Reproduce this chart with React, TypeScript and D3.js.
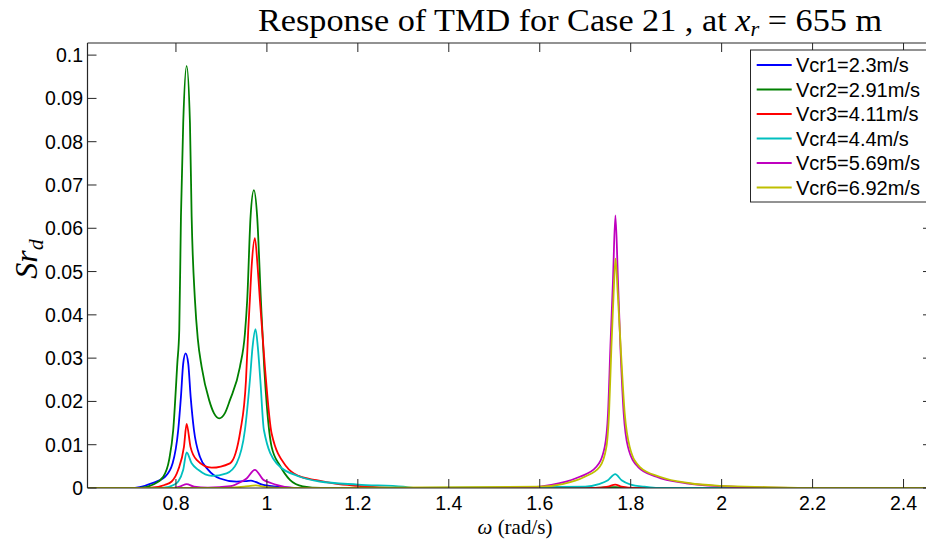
import React from "react";
import * as d3 from "d3";

const W = 926;
const H = 540;

const xTicks = [0.8, 1, 1.2, 1.4, 1.6, 1.8, 2, 2.2, 2.4];
const yTicks = [0, 0.01, 0.02, 0.03, 0.04, 0.05, 0.06, 0.07, 0.08, 0.09, 0.1];
const xTickLabels = ["0.8", "1", "1.2", "1.4", "1.6", "1.8", "2", "2.2", "2.4"];
const yTickLabels = ["0", "0.01", "0.02", "0.03", "0.04", "0.05", "0.06", "0.07", "0.08", "0.09", "0.1"];

const seriesNames = ["Vcr1=2.3m/s", "Vcr2=2.91m/s", "Vcr3=4.11m/s", "Vcr4=4.4m/s", "Vcr5=5.69m/s", "Vcr6=6.92m/s"];
const seriesColors = ["#0000ff", "#008000", "#ff0000", "#00bfbf", "#bf00bf", "#bfbf00"];

const vcr1: [number, number][] = [
  [0.6055, 0], [0.7, 0], [0.72, 0.0002], [0.7466, 0.0011], [0.776, 0.0026], [0.7927, 0.0057],
  [0.805, 0.0134], [0.811, 0.0211], [0.816, 0.0288], [0.8213, 0.0311], [0.827, 0.0288],
  [0.8323, 0.0211], [0.8396, 0.0134], [0.8527, 0.0072], [0.871, 0.0042], [0.8967, 0.0022],
  [0.9334, 0.00146], [0.955, 0.0016], [0.965, 0.0017], [0.975, 0.0014], [0.9919, 0.0007],
  [1.03, 0.0002], [1.08, 0], [2.46, 0],
];

const vcr2: [number, number][] = [
  [0.6055, 0], [0.72, 0], [0.75, 0.0008], [0.772, 0.0026], [0.785, 0.0065], [0.794, 0.0134],
  [0.803, 0.0288], [0.8073, 0.0365], [0.811, 0.0627], [0.816, 0.0843], [0.8235, 0.0975],
  [0.8308, 0.0843], [0.8345, 0.0627], [0.8418, 0.0434], [0.848, 0.0345], [0.8565, 0.028],
  [0.873, 0.0203], [0.8835, 0.0173], [0.8952, 0.0161], [0.9077, 0.0173], [0.9187, 0.0203],
  [0.9407, 0.028], [0.9517, 0.0357], [0.9567, 0.0434], [0.9641, 0.0627],
  [0.9714, 0.0688], [0.9786, 0.0627], [0.9868, 0.0434], [0.994, 0.028], [1.0, 0.0188],
  [1.0104, 0.0095], [1.0286, 0.0052], [1.0506, 0.0019], [1.079, 0.0004], [1.12, 0],
  [1.7, 0], [1.766, 0.0002], [1.8, 0], [2.46, 0],
];

const vcr3: [number, number][] = [
  [0.6055, 0], [0.74, 0], [0.775, 0.0007], [0.7906, 0.0015], [0.805, 0.0042], [0.8176, 0.0095],
  [0.8235, 0.0148], [0.832, 0.0095], [0.8455, 0.0065], [0.8785, 0.0047], [0.9187, 0.0057],
  [0.942, 0.0134], [0.954, 0.0249], [0.959, 0.0365], [0.9625, 0.0434], [0.9664, 0.0511],
  [0.9736, 0.0577], [0.9796, 0.0511], [0.9846, 0.0434], [0.9956, 0.028], [1.0104, 0.0126],
  [1.0433, 0.0049], [1.07, 0.0028], [1.109, 0.0018], [1.15, 0.001], [1.2, 0.0005],
  [1.26, 0.0001], [1.3, 0], [1.72, 0], [1.75, 0.0003], [1.766, 0.0008], [1.78, 0.0003],
  [1.81, 0], [2.46, 0],
];

const vcr4: [number, number][] = [
  [0.6055, 0], [0.77, 0], [0.7946, 0.0007], [0.805, 0.0015], [0.816, 0.0042], [0.8235, 0.0082],
  [0.8345, 0.0057], [0.849, 0.0042], [0.8785, 0.0028], [0.9114, 0.0034], [0.9334, 0.0057],
  [0.9517, 0.0134], [0.9626, 0.0249], [0.9685, 0.0326], [0.975, 0.0367], [0.98, 0.0326],
  [0.9856, 0.0249], [0.9934, 0.0134], [1.0213, 0.0057], [1.0725, 0.0026], [1.116, 0.0015],
  [1.2, 0.0008], [1.3, 0.0003], [1.33, 0], [1.7, 0.0003], [1.73, 0.0009], [1.75, 0.0018],
  [1.766, 0.0032], [1.78, 0.0018], [1.8, 0.0008], [1.83, 0.0003], [1.86, 0], [2.46, 0],
];

const vcr5: [number, number][] = [
  [0.6055, 0], [0.79, 0], [0.81, 0.0004], [0.8235, 0.0009], [0.84, 0.0003], [0.87, 0.0001],
  [0.92, 0.0004], [0.937, 0.0011], [0.9554, 0.0022], [0.9736, 0.0042], [0.992, 0.0019],
  [1.0104, 0.0011], [1.021, 0.0007], [1.06, 0], [1.545, 0], [1.6, 0.0003], [1.644, 0.0011],
  [1.688, 0.0026], [1.7246, 0.0049], [1.7429, 0.0095], [1.7502, 0.0173], [1.7554, 0.0326],
  [1.7611, 0.048], [1.7664, 0.063], [1.772, 0.048], [1.7774, 0.0326], [1.7846, 0.0173],
  [1.794, 0.0095], [1.816, 0.0049], [1.8565, 0.0026], [1.9224, 0.0011], [2.0, 0.0004],
  [2.1, 0.0001], [2.2, 0], [2.46, 0],
];

const vcr6: [number, number][] = [
  [0.6055, 0], [0.9, 0], [0.95, 0.0003], [0.975, 0.0006], [1.0, 0.0002], [1.05, 0],
  [1.6, 0.0003], [1.65, 0.0009], [1.699, 0.0026], [1.732, 0.0049], [1.7466, 0.0095],
  [1.7524, 0.0173], [1.7576, 0.0326], [1.7625, 0.045], [1.7666, 0.053], [1.7715, 0.045],
  [1.778, 0.0326], [1.7868, 0.0173], [1.7978, 0.0095], [1.8198, 0.0049], [1.8638, 0.0026],
  [1.93, 0.0011], [2.0, 0.0005], [2.1, 0.0002], [2.2, 0], [2.46, 0],
];

const seriesData = [vcr1, vcr2, vcr3, vcr4, vcr5, vcr6];

const plotLeft = 87.5;
const plotRight = 932;
const plotTop = 43;
const plotBottom = 488;

export default function App() {
  const x = d3.scaleLinear().domain([0.6055, 2.4626]).range([plotLeft, plotRight]);
  const y = d3.scaleLinear().domain([0, 0.1028]).range([plotBottom, plotTop]);
  const line = d3
    .line<[number, number]>()
    .x((d) => x(d[0]))
    .y((d) => y(d[1]))
    .curve(d3.curveMonotoneX);

  const tickLen = 9;
  const axisColor = "#262626";
  const sans = "'Liberation Sans', Arial, sans-serif";
  const serif = "'Liberation Serif', 'DejaVu Serif', serif";

  const legX = 750.5;
  const legY = 50;
  const legRow = 24.5;

  return (
    <svg
      width={W}
      height={H}
      style={{ position: "absolute", left: 0, top: 0, background: "#fff" }}
    >
      <rect x={0} y={0} width={W} height={H} fill="#fff" />
      <defs>
        <clipPath id="plotclip">
          <rect x={plotLeft} y={plotTop} width={plotRight - plotLeft} height={plotBottom - plotTop} />
        </clipPath>
      </defs>

      {/* title */}
      <text x={258} y={31} fontFamily={serif} fontSize={32} fill="#000" textLength={624} lengthAdjust="spacingAndGlyphs">
        Response of TMD for Case 21 , at{" "}
        <tspan fontStyle="italic">x</tspan>
        <tspan fontStyle="italic" fontSize={21} dy={5}>r</tspan>
        <tspan dy={-5}> = 655 m</tspan>
      </text>

      {/* series */}
      <g clipPath="url(#plotclip)">
        {seriesData.map((s, i) => (
          <path key={i} d={line(s) || ""} fill="none" stroke={seriesColors[i]} strokeWidth={1.8} strokeLinejoin="round" />
        ))}
      </g>

      {/* axes box */}
      <g stroke={axisColor} strokeWidth={1.2} fill="none">
        <line x1={plotLeft} y1={plotTop} x2={plotLeft} y2={plotBottom} />
        <line x1={plotLeft} y1={plotBottom} x2={plotRight} y2={plotBottom} />
        <line x1={plotLeft} y1={plotTop} x2={plotRight} y2={plotTop} />
        <line x1={plotRight} y1={plotTop} x2={plotRight} y2={plotBottom} />
      </g>

      {/* ticks */}
      <g stroke={axisColor} strokeWidth={1}>
        {xTicks.map((t) => (
          <g key={"xt" + t}>
            <line x1={x(t)} x2={x(t)} y1={plotBottom} y2={plotBottom - tickLen} />
            <line x1={x(t)} x2={x(t)} y1={plotTop} y2={plotTop + tickLen} />
          </g>
        ))}
        {yTicks.map((t) => (
          <g key={"yt" + t}>
            <line x1={plotLeft} x2={plotLeft + tickLen} y1={y(t)} y2={y(t)} />
            <line x1={plotRight} x2={plotRight - tickLen} y1={y(t)} y2={y(t)} />
          </g>
        ))}
      </g>

      {xTicks.map((t, i) => (
        <text key={"xl" + t} x={x(t)} y={510} textAnchor="middle" fontFamily={sans} fontSize={19.5} fill="#000">
          {xTickLabels[i]}
        </text>
      ))}
      {yTicks.map((t, i) => (
        <text key={"yl" + t} x={83} y={y(t) + 7} textAnchor="end" fontFamily={sans} fontSize={19.5} fill="#000">
          {yTickLabels[i]}
        </text>
      ))}

      {/* x label */}
      <text x={515} y={533.5} textAnchor="middle" fontFamily={serif} fontSize={21} fill="#000">
        <tspan fontStyle="italic">ω</tspan> (rad/s)
      </text>

      {/* y label */}
      <text transform="translate(37,259) rotate(-90)" textAnchor="middle" fontFamily={serif} fontSize={32} fontStyle="italic" fill="#000">
        Sr<tspan fontSize={22} dy={6}>d</tspan>
      </text>

      {/* legend */}
      <rect x={legX} y={legY} width={W - legX + 10} height={152} fill="#fff" stroke={axisColor} strokeWidth={1} />
      {seriesNames.map((n, i) => (
        <g key={n}>
          <line x1={756.7} x2={791.7} y1={legY + 15 + i * legRow} y2={legY + 15 + i * legRow} stroke={seriesColors[i]} strokeWidth={1.8} />
          <text x={796} y={legY + 15 + i * legRow + 7} fontFamily={sans} fontSize={20} fill="#000">
            {n}
          </text>
        </g>
      ))}
    </svg>
  );
}
